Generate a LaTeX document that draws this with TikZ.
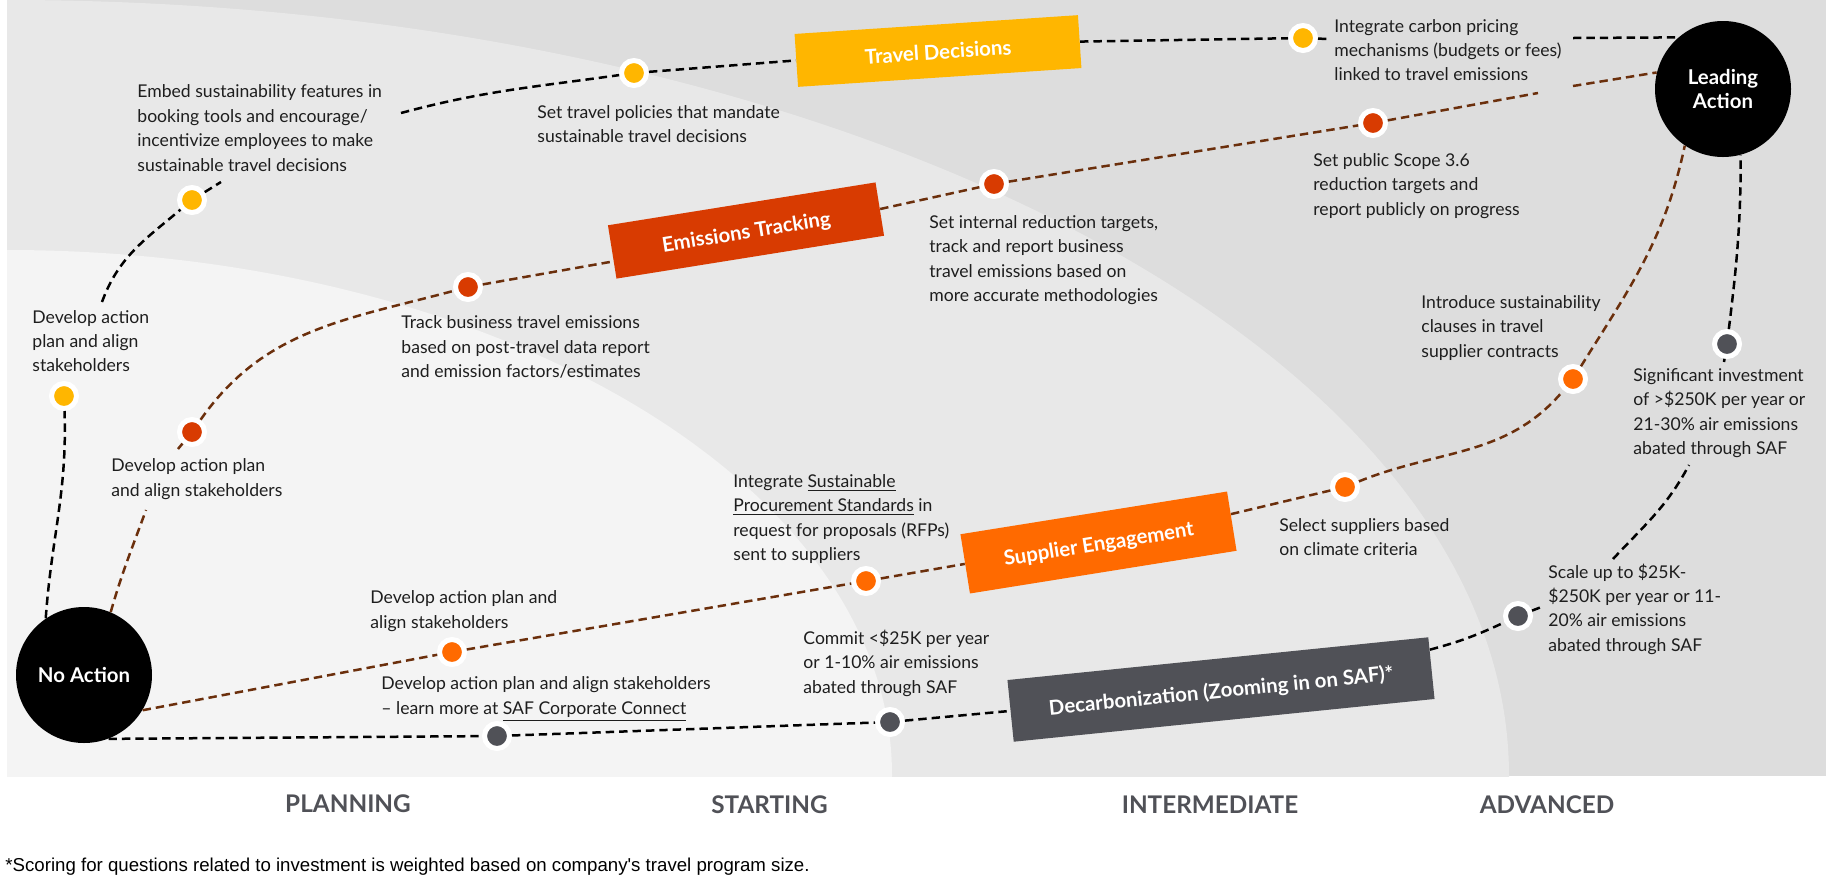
\documentclass[tikz,border=0pt]{standalone}
\usepackage{fontspec}
\setmainfont{Lato}
\newfontfamily\notefont{Liberation Sans}
\usepackage{tikz}
\usetikzlibrary{calc}
\definecolor{bgouter}{HTML}{DDDDDD}
\definecolor{bgmid}{HTML}{E8E8E8}
\definecolor{bginner}{HTML}{F4F4F4}
\definecolor{cyellow}{HTML}{FFB600}
\definecolor{cred}{HTML}{D83B01}
\definecolor{corange}{HTML}{FF6A00}
\definecolor{cdark}{HTML}{505157}
\definecolor{cbrown}{HTML}{6B2F0C}
\definecolor{ctext}{HTML}{1E1E1E}
\tikzset{
	dot/.style={circle,minimum size=12.5pt,inner sep=0pt,draw=white,line width=2.5pt,fill=#1},
	banner/.style={minimum height=#1,inner sep=0pt,text height=9pt,text depth=0.6pt,text=white,font=\fontsize{10.2}{12}\selectfont\bfseries},
	endpoint/.style={circle,fill=black,minimum size=68pt,inner sep=0pt,align=center,text=white,font=\fontsize{10.2}{12.2}\selectfont\bfseries},
	blk/.style={draw=black,line width=1.25pt,dash pattern=on 4.2pt off 2.5pt},
	brn/.style={draw=cbrown,line width=1.25pt,dash pattern=on 4.2pt off 2.5pt},
	lbl/.style={anchor=west,align=left,inner sep=0pt,text=ctext,font=\fontsize{8.8}{12.2}\selectfont},
	stage/.style={text=cdark,font=\fontsize{12.15}{14}\selectfont\bfseries}
}
\begin{document}
\begin{tikzpicture}[x=0.5pt,y=-0.5pt]
	\useasboundingbox (0,0) rectangle (1828,885);
	\fill[white] (0,0) rectangle (1828,885);
	\fill[bgouter] (7,0) rectangle (1826,776);
	\begin{scope}
		\clip (7,0) rectangle (1826,776);
		\fill[bgmid] (7,776) ellipse [x radius=751pt,y radius=388pt];
		\fill[bginner] (7,775) ellipse [x radius=442.5pt,y radius=262.5pt];
	\end{scope}

	\node[endpoint] (N) at (84,675) {No Action};
	\node[endpoint] (L) at (1723,89) {Leading\\Action};

	\node[dot=cyellow] (y1) at (64,396) {};
	\node[dot=cyellow] (y2) at (192,200) {};
	\node[dot=cyellow] (y3) at (634,73) {};
	\node[dot=cyellow] (y4) at (1303,38) {};
	\node[dot=cred] (r1) at (192,432) {};
	\node[dot=cred] (r2) at (468,287) {};
	\node[dot=cred] (r3) at (994,184) {};
	\node[dot=cred] (r4) at (1373,123) {};
	\node[dot=corange] (o1) at (452,652) {};
	\node[dot=corange] (o2) at (866,581) {};
	\node[dot=corange] (o3) at (1345,487) {};
	\node[dot=corange] (o4) at (1573,379) {};
	\node[dot=cdark] (d1) at (497,736) {};
	\node[dot=cdark] (d2) at (890,722) {};
	\node[dot=cdark] (d3) at (1518,616) {};
	\node[dot=cdark] (d4) at (1727,344) {};

	\node[banner=26.5pt,fill=cyellow,minimum width=142pt,rotate=3.8] (banT) at (938,51) {Travel Decisions};
	\node[banner=27pt,fill=cred,minimum width=135.5pt,rotate=9.1] (banE) at (746,230.5) {Emissions Tracking};
	\node[banner=30pt,fill=corange,minimum width=135pt,rotate=9.1] (banS) at (1098.5,542.5) {Supplier Engagement};
	\node[banner=31pt,fill=cdark,minimum width=211.5pt,rotate=5.8] (banD) at (1221,689.5) {Decarbonization (Zooming in on SAF)*};

	\coordinate (y1t) at (102,302);
	\coordinate (y2t) at (221,182);
	\coordinate (y3l) at (401,113);
	\coordinate (y4r) at (1328,39);
	\coordinate (y4e) at (1573,38);
	\coordinate (r1b) at (146,510);
	\coordinate (r1t) at (178,449);
	\coordinate (r4r) at (1538,93);
	\coordinate (r4e) at (1573,86);
	\coordinate (d3r) at (1544,606);
	\coordinate (d3t) at (1613,559);
	\coordinate (d4b) at (1689,465);
	\coordinate (d4s) at (1724,362);

	\path[blk]
(N.124) edge [out=86,in=-88] (y1)
(y1t) edge [out=70,in=220] (y2)
(y2) edge (y2t)
(y3l) edge [out=15,in=188] (y3)
(y3) edge (banT.west)
(banT.east) edge (y4)
(y4) edge (y4r)
(y4e) edge (L.131)
(N.-69) edge (d1)
(d1) edge (d2)
(d2) edge (banD.west)
(banD.5) edge [out=15,in=205] (d3)
(d3) edge (d3r)
(d3t) edge [out=47,in=-118] (d4b)
(d4s) edge (d4)
(d4) edge [out=83,in=-90] (L.-75)
;
	\path[brn]
(N.67) edge [out=74,in=-110] (r1b)
(r1t) edge (r1)
(r1) edge [out=55,in=195] (r2)
(r2) edge (banE.184)
(banE.east) edge (r3)
(r3) edge (r4)
(r4) edge (r4r)
(r4e) edge (L.166)
(N.-31) edge (o1)
(o1) edge (o2)
(o2) edge (banS.west)
(banS.3) edge (o3)
(o3) edge [out=22,in=230] (o4)
(o4) edge [out=58,in=-102] (L.236)
;

	\node[lbl] (ty1) at (32,341) {Develop action\\plan and align\\stakeholders};
	\node[lbl] (ty2) at (137,128) {Embed sustainability features in\\booking tools and encourage/\\incentivize employees to make\\sustainable travel decisions};
	\node[lbl] (ty3) at (537,124) {Set travel policies that mandate\\sustainable travel decisions};
	\node[lbl] (ty4) at (1334,50) {Integrate carbon pricing\\mechanisms (budgets or fees)\\linked to travel emissions};
	\node[lbl] (tr1) at (111,479) {Develop action plan\\and align stakeholders};
	\node[lbl] (tr2) at (401,347) {Track business travel emissions\\based on post-travel data report\\and emission factors/estimates};
	\node[lbl] (tr3) at (929,260) {Set internal reduction targets,\\track and report business\\travel emissions based on\\more accurate methodologies};
	\node[lbl] (tr4) at (1313,186) {Set public Scope 3.6\\reduction targets and\\report publicly on progress};
	\node[lbl] (to1) at (370,611) {Develop action plan and\\align stakeholders};
	\node[lbl] (to2) at (733,519) {Integrate \underline{Sustainable}\\\underline{Procurement Standards} in\\request for proposals (RFPs)\\sent to suppliers};
	\node[lbl] (to3) at (1279,537) {Select suppliers based\\on climate criteria};
	\node[lbl] (to4) at (1421,328) {Introduce sustainability\\clauses in travel\\supplier contracts};
	\node[lbl] (td1) at (381,699) {Develop action plan and align stakeholders\\-- learn more at \underline{SAF Corporate Connect}};
	\node[lbl] (td2) at (803,663) {Commit <\$25K per year\\or 1-10\% air emissions\\abated through SAF};
	\node[lbl] (td3) at (1548,609) {Scale up to \$25K-\\\$250K per year or 11-\\20\% air emissions\\abated through SAF};
	\node[lbl] (td4) at (1633,413) {Significant investment\\of >\$250K per year or\\21-30\% air emissions\\abated through SAF};

	\node[stage] (sP) at (348,804) {PLANNING};
	\node[stage] (sS) at (769.5,805) {STARTING};
	\node[stage] (sI) at (1210,805) {INTERMEDIATE};
	\node[stage] (sA) at (1547,805) {ADVANCED};

	\node[anchor=west,inner sep=0pt,font=\notefont\fontsize{9.33}{12}\selectfont] (note) at (5,867) {*Scoring for questions related to investment is weighted based on company's travel program size.};
\end{tikzpicture}
\end{document}
